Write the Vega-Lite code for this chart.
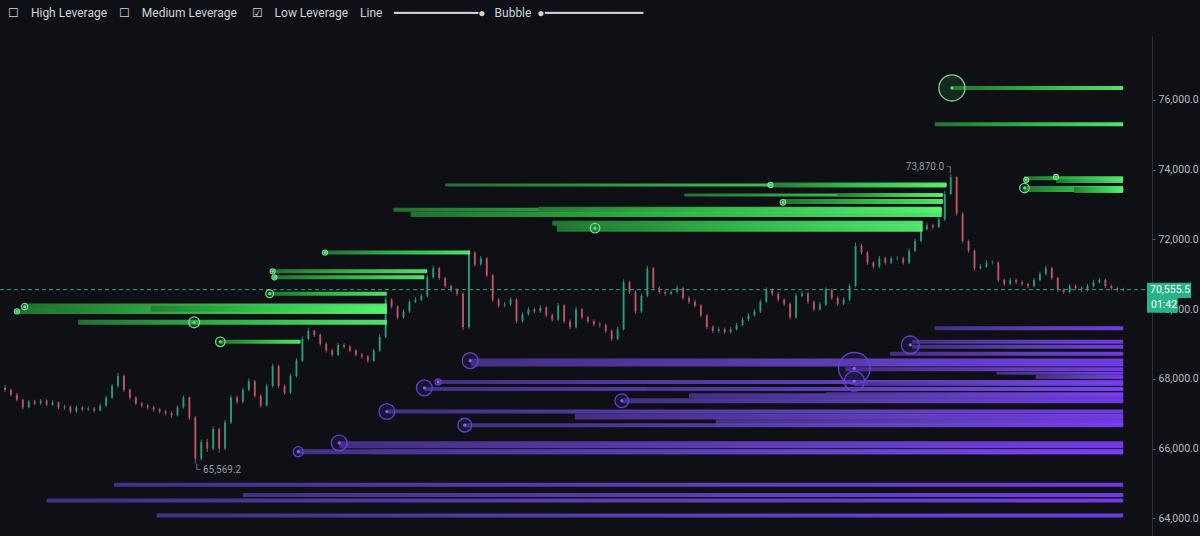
{
  "$schema": "https://vega.github.io/schema/vega-lite/v6.json",
  "autosize": {"type": "none"},
  "width": 1152,
  "height": 500,
  "padding": {"left": 0, "top": 36, "right": 48, "bottom": 0},
  "background": "#0e1016",
  "config": {
    "view": {"stroke": null},
    "font": "Roboto",
    "axisY": {
      "grid": false, "labelColor": "#b7bac3", "labelFontSize": 10.5, "labelFont": "Roboto",
      "labelPadding": 3, "tickSize": 3, "tickColor": "#5d606b", "domainColor": "#2f323c", "zindex": 0
    }
  },
  "resolve": {"scale": {"size": "independent"}},
  "title": {
    "text": "☐\u00a0\u00a0\u00a0\u00a0High Leverage\u00a0\u00a0\u00a0\u00a0☐\u00a0\u00a0\u00a0\u00a0Medium Leverage\u00a0\u00a0\u00a0\u00a0\u00a0☑\u00a0\u00a0\u00a0\u00a0Low Leverage\u00a0\u00a0\u00a0\u00a0Line\u00a0\u00a0\u00a0\u00a0━━━━━━━━━━━━●\u00a0\u00a0\u00a0Bubble\u00a0\u00a0●━━━━━━━━━━━━━━",
    "anchor": "start",
    "frame": "group",
    "offset": 16,
    "dx": 8,
    "fontSize": 12,
    "fontWeight": "normal",
    "font": "Roboto",
    "color": "#d1d4dc"
  },
  "datasets": {
    "candles": [
      {"t":0,"o":67750,"h":67820,"l":67620,"c":67680},
      {"t":1,"o":67680,"h":67720,"l":67480,"c":67540},
      {"t":2,"o":67540,"h":67590,"l":67350,"c":67400},
      {"t":3,"o":67400,"h":67430,"l":67120,"c":67180},
      {"t":4,"o":67180,"h":67390,"l":67150,"c":67340},
      {"t":5,"o":67340,"h":67400,"l":67240,"c":67290},
      {"t":6,"o":67290,"h":67420,"l":67250,"c":67370},
      {"t":7,"o":67370,"h":67410,"l":67210,"c":67260},
      {"t":8,"o":67260,"h":67380,"l":67220,"c":67320},
      {"t":9,"o":67320,"h":67350,"l":67130,"c":67180},
      {"t":10,"o":67180,"h":67260,"l":67110,"c":67200},
      {"t":11,"o":67200,"h":67240,"l":67000,"c":67060},
      {"t":12,"o":67060,"h":67230,"l":67020,"c":67180},
      {"t":13,"o":67180,"h":67220,"l":67070,"c":67120},
      {"t":14,"o":67120,"h":67210,"l":67080,"c":67150},
      {"t":15,"o":67150,"h":67190,"l":67030,"c":67090},
      {"t":16,"o":67090,"h":67290,"l":67060,"c":67230},
      {"t":17,"o":67230,"h":67520,"l":67200,"c":67460},
      {"t":18,"o":67460,"h":67850,"l":67420,"c":67790},
      {"t":19,"o":67790,"h":68180,"l":67740,"c":68080},
      {"t":20,"o":68080,"h":68120,"l":67620,"c":67680},
      {"t":21,"o":67680,"h":67720,"l":67400,"c":67460},
      {"t":22,"o":67460,"h":67500,"l":67240,"c":67290},
      {"t":23,"o":67290,"h":67340,"l":67180,"c":67230},
      {"t":24,"o":67230,"h":67280,"l":67120,"c":67180},
      {"t":25,"o":67180,"h":67230,"l":67060,"c":67120},
      {"t":26,"o":67120,"h":67170,"l":67000,"c":67060},
      {"t":27,"o":67060,"h":67110,"l":66950,"c":67010},
      {"t":28,"o":67010,"h":67060,"l":66880,"c":66950},
      {"t":29,"o":66950,"h":67240,"l":66920,"c":67180},
      {"t":30,"o":67180,"h":67520,"l":67140,"c":67460},
      {"t":31,"o":67460,"h":67490,"l":66820,"c":66890},
      {"t":32,"o":66890,"h":66930,"l":65569.2,"c":65710},
      {"t":33,"o":65710,"h":66260,"l":65660,"c":66190},
      {"t":34,"o":66190,"h":66280,"l":65900,"c":66000},
      {"t":35,"o":66000,"h":66640,"l":65950,"c":66560},
      {"t":36,"o":66560,"h":66600,"l":65880,"c":66000},
      {"t":37,"o":66000,"h":66820,"l":65960,"c":66750},
      {"t":38,"o":66750,"h":67530,"l":66700,"c":67460},
      {"t":39,"o":67460,"h":67520,"l":67280,"c":67340},
      {"t":40,"o":67340,"h":67750,"l":67300,"c":67680},
      {"t":41,"o":67680,"h":68010,"l":67640,"c":67930},
      {"t":42,"o":67930,"h":67970,"l":67450,"c":67510},
      {"t":43,"o":67510,"h":67560,"l":67170,"c":67230},
      {"t":44,"o":67230,"h":67860,"l":67200,"c":67790},
      {"t":45,"o":67790,"h":68430,"l":67750,"c":68360},
      {"t":46,"o":68360,"h":68400,"l":67730,"c":67790},
      {"t":47,"o":67790,"h":67840,"l":67540,"c":67600},
      {"t":48,"o":67600,"h":68150,"l":67560,"c":68080},
      {"t":49,"o":68080,"h":68600,"l":68040,"c":68520},
      {"t":50,"o":68520,"h":69220,"l":68480,"c":69140},
      {"t":51,"o":69140,"h":69450,"l":69100,"c":69370},
      {"t":52,"o":69370,"h":69410,"l":69200,"c":69260},
      {"t":53,"o":69260,"h":69300,"l":68940,"c":69000},
      {"t":54,"o":69000,"h":69050,"l":68750,"c":68810},
      {"t":55,"o":68810,"h":68860,"l":68620,"c":68690},
      {"t":56,"o":68690,"h":69030,"l":68650,"c":68970},
      {"t":57,"o":68970,"h":69020,"l":68860,"c":68920},
      {"t":58,"o":68920,"h":68970,"l":68760,"c":68810},
      {"t":59,"o":68810,"h":68850,"l":68640,"c":68690},
      {"t":60,"o":68690,"h":68740,"l":68580,"c":68640},
      {"t":61,"o":68640,"h":68680,"l":68460,"c":68520},
      {"t":62,"o":68520,"h":68870,"l":68490,"c":68810},
      {"t":63,"o":68810,"h":69280,"l":68770,"c":69200},
      {"t":64,"o":69200,"h":70350,"l":69160,"c":70270},
      {"t":65,"o":70270,"h":70310,"l":70010,"c":70070},
      {"t":66,"o":70070,"h":70110,"l":69700,"c":69760},
      {"t":67,"o":69760,"h":69990,"l":69720,"c":69930},
      {"t":68,"o":69930,"h":70270,"l":69890,"c":70210},
      {"t":69,"o":70210,"h":70340,"l":70170,"c":70270},
      {"t":70,"o":70270,"h":70440,"l":70230,"c":70380},
      {"t":71,"o":70380,"h":70980,"l":70340,"c":70910},
      {"t":72,"o":70910,"h":71240,"l":70870,"c":71170},
      {"t":73,"o":71170,"h":71210,"l":70830,"c":70890},
      {"t":74,"o":70890,"h":70930,"l":70600,"c":70660},
      {"t":75,"o":70660,"h":70700,"l":70490,"c":70550},
      {"t":76,"o":70550,"h":70600,"l":70380,"c":70440},
      {"t":77,"o":70440,"h":70480,"l":69400,"c":69480},
      {"t":78,"o":69480,"h":71700,"l":69440,"c":71620},
      {"t":79,"o":71620,"h":71660,"l":71220,"c":71280},
      {"t":80,"o":71280,"h":71520,"l":71240,"c":71450},
      {"t":81,"o":71450,"h":71490,"l":70910,"c":70970},
      {"t":82,"o":70970,"h":71010,"l":70200,"c":70270},
      {"t":83,"o":70270,"h":70320,"l":70040,"c":70100},
      {"t":84,"o":70100,"h":70200,"l":70050,"c":70130},
      {"t":85,"o":70130,"h":70330,"l":70090,"c":70270},
      {"t":86,"o":70270,"h":70310,"l":69590,"c":69650},
      {"t":87,"o":69650,"h":69910,"l":69610,"c":69850},
      {"t":88,"o":69850,"h":70060,"l":69810,"c":69990},
      {"t":89,"o":69990,"h":70040,"l":69870,"c":69930},
      {"t":90,"o":69930,"h":70110,"l":69890,"c":70040},
      {"t":91,"o":70040,"h":70080,"l":69760,"c":69820},
      {"t":92,"o":69820,"h":69870,"l":69640,"c":69700},
      {"t":93,"o":69700,"h":70170,"l":69660,"c":70100},
      {"t":94,"o":70100,"h":70140,"l":69590,"c":69650},
      {"t":95,"o":69650,"h":69700,"l":69420,"c":69480},
      {"t":96,"o":69480,"h":70060,"l":69440,"c":69990},
      {"t":97,"o":69990,"h":70030,"l":69700,"c":69760},
      {"t":98,"o":69760,"h":69800,"l":69590,"c":69650},
      {"t":99,"o":69650,"h":69700,"l":69500,"c":69560},
      {"t":100,"o":69560,"h":69620,"l":69470,"c":69540},
      {"t":101,"o":69540,"h":69590,"l":69310,"c":69370},
      {"t":102,"o":69370,"h":69410,"l":69080,"c":69140},
      {"t":103,"o":69140,"h":69490,"l":69100,"c":69420},
      {"t":104,"o":69420,"h":70850,"l":69380,"c":70770},
      {"t":105,"o":70770,"h":70810,"l":70430,"c":70490},
      {"t":106,"o":70490,"h":70530,"l":69870,"c":69930},
      {"t":107,"o":69930,"h":70450,"l":69890,"c":70380},
      {"t":108,"o":70380,"h":71240,"l":70340,"c":71170},
      {"t":109,"o":71170,"h":71210,"l":70540,"c":70600},
      {"t":110,"o":70600,"h":70650,"l":70430,"c":70490},
      {"t":111,"o":70490,"h":70540,"l":70380,"c":70440},
      {"t":112,"o":70440,"h":70560,"l":70400,"c":70490},
      {"t":113,"o":70490,"h":70670,"l":70450,"c":70600},
      {"t":114,"o":70600,"h":70640,"l":70260,"c":70320},
      {"t":115,"o":70320,"h":70370,"l":70150,"c":70210},
      {"t":116,"o":70210,"h":70260,"l":70040,"c":70100},
      {"t":117,"o":70100,"h":70140,"l":69760,"c":69820},
      {"t":118,"o":69820,"h":69860,"l":69420,"c":69480},
      {"t":119,"o":69480,"h":69530,"l":69310,"c":69370},
      {"t":120,"o":69370,"h":69480,"l":69320,"c":69420},
      {"t":121,"o":69420,"h":69470,"l":69280,"c":69340},
      {"t":122,"o":69340,"h":69490,"l":69300,"c":69420},
      {"t":123,"o":69420,"h":69600,"l":69380,"c":69540},
      {"t":124,"o":69540,"h":69760,"l":69500,"c":69700},
      {"t":125,"o":69700,"h":69880,"l":69660,"c":69820},
      {"t":126,"o":69820,"h":70000,"l":69780,"c":69930},
      {"t":127,"o":69930,"h":70280,"l":69890,"c":70210},
      {"t":128,"o":70210,"h":70620,"l":70170,"c":70550},
      {"t":129,"o":70550,"h":70600,"l":70380,"c":70440},
      {"t":130,"o":70440,"h":70490,"l":70210,"c":70270},
      {"t":131,"o":70270,"h":70310,"l":70090,"c":70150},
      {"t":132,"o":70150,"h":70190,"l":69700,"c":69760},
      {"t":133,"o":69760,"h":70450,"l":69720,"c":70380},
      {"t":134,"o":70380,"h":70510,"l":70340,"c":70440},
      {"t":135,"o":70440,"h":70490,"l":70150,"c":70210},
      {"t":136,"o":70210,"h":70250,"l":69930,"c":69990},
      {"t":137,"o":69990,"h":70200,"l":69950,"c":70130},
      {"t":138,"o":70130,"h":70620,"l":70090,"c":70550},
      {"t":139,"o":70550,"h":70590,"l":70260,"c":70320},
      {"t":140,"o":70320,"h":70370,"l":70090,"c":70150},
      {"t":141,"o":70150,"h":70340,"l":70110,"c":70270},
      {"t":142,"o":70270,"h":70730,"l":70230,"c":70660},
      {"t":143,"o":70660,"h":71900,"l":70620,"c":71810},
      {"t":144,"o":71810,"h":71870,"l":71560,"c":71620},
      {"t":145,"o":71620,"h":71660,"l":71270,"c":71330},
      {"t":146,"o":71330,"h":71380,"l":71160,"c":71220},
      {"t":147,"o":71220,"h":71520,"l":71180,"c":71450},
      {"t":148,"o":71450,"h":71490,"l":71270,"c":71330},
      {"t":149,"o":71330,"h":71510,"l":71290,"c":71450},
      {"t":150,"o":71450,"h":71520,"l":71390,"c":71450},
      {"t":151,"o":71450,"h":71500,"l":71270,"c":71330},
      {"t":152,"o":71330,"h":71740,"l":71290,"c":71670},
      {"t":153,"o":71670,"h":72020,"l":71630,"c":71950},
      {"t":154,"o":71950,"h":72360,"l":71910,"c":72290},
      {"t":155,"o":72290,"h":72470,"l":72250,"c":72400},
      {"t":156,"o":72400,"h":72450,"l":72290,"c":72350},
      {"t":157,"o":72350,"h":72640,"l":72310,"c":72570},
      {"t":158,"o":72570,"h":73380,"l":72530,"c":73300},
      {"t":159,"o":73300,"h":73870,"l":73260,"c":73780},
      {"t":160,"o":73780,"h":73820,"l":72680,"c":72740},
      {"t":161,"o":72740,"h":72780,"l":71890,"c":71950},
      {"t":162,"o":71950,"h":71990,"l":71610,"c":71670},
      {"t":163,"o":71670,"h":71710,"l":71110,"c":71170},
      {"t":164,"o":71170,"h":71290,"l":71130,"c":71220},
      {"t":165,"o":71220,"h":71400,"l":71180,"c":71330},
      {"t":166,"o":71330,"h":71390,"l":71270,"c":71330},
      {"t":167,"o":71330,"h":71370,"l":70770,"c":70830},
      {"t":168,"o":70830,"h":70870,"l":70660,"c":70720},
      {"t":169,"o":70720,"h":70890,"l":70680,"c":70830},
      {"t":170,"o":70830,"h":70880,"l":70710,"c":70770},
      {"t":171,"o":70770,"h":70820,"l":70660,"c":70720},
      {"t":172,"o":70720,"h":70760,"l":70600,"c":70660},
      {"t":173,"o":70660,"h":70890,"l":70620,"c":70830},
      {"t":174,"o":70830,"h":71070,"l":70790,"c":71000},
      {"t":175,"o":71000,"h":71240,"l":70960,"c":71170},
      {"t":176,"o":71170,"h":71210,"l":70830,"c":70890},
      {"t":177,"o":70890,"h":70930,"l":70490,"c":70550},
      {"t":178,"o":70550,"h":70600,"l":70430,"c":70490},
      {"t":179,"o":70490,"h":70720,"l":70450,"c":70660},
      {"t":180,"o":70660,"h":70710,"l":70540,"c":70600},
      {"t":181,"o":70600,"h":70650,"l":70490,"c":70550},
      {"t":182,"o":70550,"h":70720,"l":70510,"c":70660},
      {"t":183,"o":70660,"h":70840,"l":70620,"c":70770},
      {"t":184,"o":70770,"h":70900,"l":70730,"c":70830},
      {"t":185,"o":70830,"h":70870,"l":70600,"c":70660},
      {"t":186,"o":70660,"h":70710,"l":70540,"c":70600},
      {"t":187,"o":70600,"h":70640,"l":70490,"c":70550},
      {"t":188,"o":70550,"h":70610,"l":70500,"c":70555.5}
    ],
    "levels": [
      {"side":"short","t0":159.2,"t1":188,"p":76340,"vol":8},
      {"side":"short","t0":156.3,"t1":188,"p":75300,"vol":8},
      {"side":"short","t0":171.3,"t1":188,"p":73750,"vol":8},
      {"side":"short","t0":176.7,"t1":188,"p":73670,"vol":8},
      {"side":"short","t0":171.3,"t1":188,"p":73440,"vol":12},
      {"side":"short","t0":179.7,"t1":188,"p":73410,"vol":12},
      {"side":"short","t0":74,"t1":158.3,"p":73560,"vol":6},
      {"side":"short","t0":128.7,"t1":158.3,"p":73560,"vol":10},
      {"side":"short","t0":114.2,"t1":157.7,"p":73270,"vol":6},
      {"side":"short","t0":140,"t1":157.7,"p":73270,"vol":8},
      {"side":"short","t0":130.8,"t1":157.7,"p":73080,"vol":10},
      {"side":"short","t0":65.3,"t1":157.5,"p":72850,"vol":8},
      {"side":"short","t0":89.7,"t1":157.5,"p":72850,"vol":12},
      {"side":"short","t0":68.2,"t1":157.5,"p":72710,"vol":10},
      {"side":"short","t0":92,"t1":154.3,"p":72460,"vol":10},
      {"side":"short","t0":92.8,"t1":154.3,"p":72320,"vol":14},
      {"side":"short","t0":53.8,"t1":78.2,"p":71620,"vol":8},
      {"side":"short","t0":45,"t1":71,"p":71080,"vol":8},
      {"side":"short","t0":45.3,"t1":70.5,"p":70910,"vol":8},
      {"side":"short","t0":44.5,"t1":64.2,"p":70440,"vol":8},
      {"side":"short","t0":3.3,"t1":64.2,"p":70070,"vol":12},
      {"side":"short","t0":2,"t1":64.2,"p":69930,"vol":10},
      {"side":"short","t0":8.7,"t1":64.2,"p":69960,"vol":10},
      {"side":"short","t0":24.5,"t1":64.2,"p":70010,"vol":12},
      {"side":"short","t0":12.3,"t1":64.2,"p":69620,"vol":10},
      {"side":"short","t0":36.2,"t1":49.7,"p":69060,"vol":8},
      {"side":"long","t0":156.3,"t1":188,"p":69450,"vol":8},
      {"side":"long","t0":152.5,"t1":188,"p":69060,"vol":8},
      {"side":"long","t0":152.5,"t1":188,"p":68920,"vol":8},
      {"side":"long","t0":148.8,"t1":188,"p":68720,"vol":8},
      {"side":"long","t0":78.3,"t1":188,"p":68470,"vol":16},
      {"side":"long","t0":141.3,"t1":188,"p":68270,"vol":8},
      {"side":"long","t0":166.7,"t1":188,"p":68160,"vol":6},
      {"side":"long","t0":173.3,"t1":188,"p":68050,"vol":8},
      {"side":"long","t0":72.8,"t1":188,"p":67910,"vol":8},
      {"side":"long","t0":142.8,"t1":188,"p":67850,"vol":8},
      {"side":"long","t0":70.5,"t1":188,"p":67710,"vol":8},
      {"side":"long","t0":107.8,"t1":188,"p":67710,"vol":8},
      {"side":"long","t0":115,"t1":188,"p":67510,"vol":10},
      {"side":"long","t0":138,"t1":188,"p":67570,"vol":6},
      {"side":"long","t0":103.7,"t1":188,"p":67370,"vol":10},
      {"side":"long","t0":64.2,"t1":188,"p":67060,"vol":8},
      {"side":"long","t0":95.8,"t1":188,"p":66920,"vol":12},
      {"side":"long","t0":119.5,"t1":188,"p":66750,"vol":12},
      {"side":"long","t0":77.3,"t1":188,"p":66670,"vol":8},
      {"side":"long","t0":56.2,"t1":188,"p":66110,"vol":14},
      {"side":"long","t0":49.3,"t1":188,"p":65910,"vol":10},
      {"side":"long","t0":61.7,"t1":188,"p":65910,"vol":10},
      {"side":"long","t0":18.3,"t1":188,"p":64960,"vol":8},
      {"side":"long","t0":40,"t1":188,"p":64670,"vol":8},
      {"side":"long","t0":7,"t1":188,"p":64510,"vol":8},
      {"side":"long","t0":25.5,"t1":188,"p":64080,"vol":8}
    ],
    "bubbles": [
      {"side":"short","t":159.2,"p":76340,"liq":68},
      {"side":"short","t":171.4,"p":73470,"liq":9},
      {"side":"short","t":171.7,"p":73700,"liq":2.5},
      {"side":"short","t":176.7,"p":73790,"liq":2.5},
      {"side":"short","t":128.7,"p":73560,"liq":2.5},
      {"side":"short","t":130.8,"p":73060,"liq":3},
      {"side":"short","t":99.2,"p":72320,"liq":9},
      {"side":"short","t":53.8,"p":71620,"liq":2.5},
      {"side":"short","t":45,"p":71080,"liq":2.5},
      {"side":"short","t":45.3,"p":70910,"liq":2.5},
      {"side":"short","t":44.5,"p":70440,"liq":6},
      {"side":"short","t":3.3,"p":70070,"liq":4},
      {"side":"short","t":2,"p":69930,"liq":2.5},
      {"side":"short","t":31.8,"p":69620,"liq":12},
      {"side":"short","t":36.2,"p":69060,"liq":9},
      {"side":"long","t":152.2,"p":68970,"liq":32},
      {"side":"long","t":78.2,"p":68520,"liq":25},
      {"side":"long","t":142.8,"p":68300,"liq":100},
      {"side":"long","t":142.8,"p":67930,"liq":40},
      {"side":"long","t":70.5,"p":67740,"liq":25},
      {"side":"long","t":103.7,"p":67370,"liq":19},
      {"side":"long","t":64.2,"p":67060,"liq":25},
      {"side":"long","t":77.3,"p":66670,"liq":19},
      {"side":"long","t":56.2,"p":66160,"liq":25},
      {"side":"long","t":49.3,"p":65910,"liq":10},
      {"side":"long","t":72.8,"p":67910,"liq":3.6}
    ]
  },
  "layer": [
    {
      "data": {"name": "candles"},
      "mark": {"type": "rule", "strokeWidth": 1, "opacity": 0.8},
      "encoding": {
        "x": {"field": "t", "type": "quantitative", "scale": {"domain": [0, 192], "nice": false, "zero": false}, "axis": null},
        "y": {
          "field": "l", "type": "quantitative",
          "scale": {"domain": [63635, 77686], "nice": false, "zero": false},
          "axis": {"orient": "right", "title": null, "values": [64000, 66000, 68000, 70000, 72000, 74000, 76000], "format": ",.1f"}
        },
        "y2": {"field": "h"},
        "color": {"condition": {"test": "datum.c >= datum.o", "value": "#2fa586"}, "value": "#c95d63"}
      }
    },
    {
      "data": {"name": "candles"},
      "mark": {"type": "bar", "opacity": 0.8},
      "encoding": {
        "x": {"field": "t", "type": "quantitative", "axis": null},
        "y": {"field": "o", "type": "quantitative", "axis": {"orient": "right", "title": null, "values": [64000, 66000, 68000, 70000, 72000, 74000, 76000], "format": ",.1f"}},
        "y2": {"field": "c"},
        "size": {"value": 2},
        "color": {"condition": {"test": "datum.c >= datum.o", "value": "#2fa586"}, "value": "#c95d63"}
      }
    },
    {
      "data": {"values": [{"p": 70555.5}]},
      "mark": {"type": "rule", "color": "#24a883", "strokeDash": [4, 3], "strokeWidth": 1},
      "encoding": {"y": {"field": "p", "type": "quantitative", "axis": {"orient": "right", "title": null, "values": [64000, 66000, 68000, 70000, 72000, 74000, 76000], "format": ",.1f"}}}
    },
    {
      "data": {"name": "levels"},
      "transform": [{"filter": "datum.side === 'long'"}],
      "mark": {
        "type": "bar", "opacity": 0.9, "cornerRadius": 1,
        "fill": {"gradient": "linear", "x1": 0, "y1": 0, "x2": 1, "y2": 0,
          "stops": [{"offset": 0, "color": "#4b3290"}, {"offset": 0.6, "color": "#6844cc"}, {"offset": 1, "color": "#7d3efc"}]}
      },
      "encoding": {
        "x": {"field": "t0", "type": "quantitative", "axis": null},
        "x2": {"field": "t1"},
        "y": {"field": "p", "type": "quantitative", "axis": {"orient": "right", "title": null, "values": [64000, 66000, 68000, 70000, 72000, 74000, 76000], "format": ",.1f"}},
        "size": {"field": "vol", "type": "quantitative", "scale": {"domain": [0, 20], "range": [0, 10]}, "legend": null}
      }
    },
    {
      "data": {"name": "levels"},
      "transform": [{"filter": "datum.side === 'short'"}],
      "mark": {
        "type": "bar", "opacity": 0.92, "cornerRadius": 1,
        "fill": {"gradient": "linear", "x1": 0, "y1": 0, "x2": 1, "y2": 0,
          "stops": [{"offset": 0, "color": "#237a33"}, {"offset": 0.5, "color": "#34c24c"}, {"offset": 1, "color": "#55f474"}]}
      },
      "encoding": {
        "x": {"field": "t0", "type": "quantitative", "axis": null},
        "x2": {"field": "t1"},
        "y": {"field": "p", "type": "quantitative", "axis": {"orient": "right", "title": null, "values": [64000, 66000, 68000, 70000, 72000, 74000, 76000], "format": ",.1f"}},
        "size": {"field": "vol", "type": "quantitative", "scale": {"domain": [0, 20], "range": [0, 10]}, "legend": null}
      }
    },
    {
      "data": {"name": "bubbles"},
      "mark": {"type": "circle", "strokeWidth": 1.3, "fillOpacity": 0.18, "strokeOpacity": 0.9},
      "encoding": {
        "x": {"field": "t", "type": "quantitative", "axis": null},
        "y": {"field": "p", "type": "quantitative", "axis": {"orient": "right", "title": null, "values": [64000, 66000, 68000, 70000, 72000, 74000, 76000], "format": ",.1f"}},
        "size": {"field": "liq", "type": "quantitative", "scale": {"domain": [0, 100], "range": [0, 1000]}, "legend": null},
        "stroke": {"field": "side", "type": "nominal", "scale": {"domain": ["long", "short"], "range": ["#6e42e0", "#86e49c"]}, "legend": null},
        "fill": {"field": "side", "type": "nominal", "scale": {"domain": ["long", "short"], "range": ["#4a2aa8", "#3c9a50"]}, "legend": null}
      }
    },
    {
      "data": {"name": "bubbles"},
      "mark": {"type": "circle", "size": 10, "opacity": 1},
      "encoding": {
        "x": {"field": "t", "type": "quantitative", "axis": null},
        "y": {"field": "p", "type": "quantitative", "axis": {"orient": "right", "title": null, "values": [64000, 66000, 68000, 70000, 72000, 74000, 76000], "format": ",.1f"}},
        "color": {"field": "side", "type": "nominal", "scale": {"domain": ["long", "short"], "range": ["#8c5cff", "#42f06a"]}, "legend": null}
      }
    },
    {
      "data": {"values": [{"t": 159, "p": 73870, "label": "73,870.0 ┐"}]},
      "mark": {"type": "text", "align": "right", "baseline": "middle", "dx": 3, "dy": -7, "fontSize": 10, "color": "#9598a1"},
      "encoding": {
        "x": {"field": "t", "type": "quantitative", "axis": null},
        "y": {"field": "p", "type": "quantitative", "axis": {"orient": "right", "title": null, "values": [64000, 66000, 68000, 70000, 72000, 74000, 76000], "format": ",.1f"}},
        "text": {"field": "label"}
      }
    },
    {
      "data": {"values": [{"t": 32, "p": 65569.2, "label": "└ 65,569.2"}]},
      "mark": {"type": "text", "align": "left", "baseline": "middle", "dx": -2, "dy": 6, "fontSize": 10, "color": "#9598a1"},
      "encoding": {
        "x": {"field": "t", "type": "quantitative", "axis": null},
        "y": {"field": "p", "type": "quantitative", "axis": {"orient": "right", "title": null, "values": [64000, 66000, 68000, 70000, 72000, 74000, 76000], "format": ",.1f"}},
        "text": {"field": "label"}
      }
    },
    {
      "data": {"values": [{"t": 192, "p": 70555.5}]},
      "mark": {"type": "point", "filled": true, "opacity": 1, "shape": "M0,-0.15H0.96V0.18H0.67V0.5H0Z", "size": 8464, "color": "#27b389"},
      "encoding": {
        "x": {"field": "t", "type": "quantitative", "axis": null},
        "y": {"field": "p", "type": "quantitative", "axis": {"orient": "right", "title": null, "values": [64000, 66000, 68000, 70000, 72000, 74000, 76000], "format": ",.1f"}}
      }
    },
    {
      "data": {"values": [{"t": 192, "p": 70555.5, "price": "70,555.5", "countdown": "01:42"}]},
      "mark": {"type": "text", "align": "left", "baseline": "middle", "dx": 3, "dy": 0, "fontSize": 10.5, "font": "Roboto", "color": "#ffffff"},
      "encoding": {
        "x": {"field": "t", "type": "quantitative", "axis": null},
        "y": {"field": "p", "type": "quantitative", "axis": {"orient": "right", "title": null, "values": [64000, 66000, 68000, 70000, 72000, 74000, 76000], "format": ",.1f"}},
        "text": {"field": "price"}
      }
    },
    {
      "data": {"values": [{"t": 192, "p": 70555.5, "price": "70,555.5", "countdown": "01:42"}]},
      "mark": {"type": "text", "align": "left", "baseline": "middle", "dx": 4, "dy": 15, "fontSize": 10.5, "font": "Roboto", "color": "#ffffff"},
      "encoding": {
        "x": {"field": "t", "type": "quantitative", "axis": null},
        "y": {"field": "p", "type": "quantitative", "axis": {"orient": "right", "title": null, "values": [64000, 66000, 68000, 70000, 72000, 74000, 76000], "format": ",.1f"}},
        "text": {"field": "countdown"}
      }
    }
  ]
}
